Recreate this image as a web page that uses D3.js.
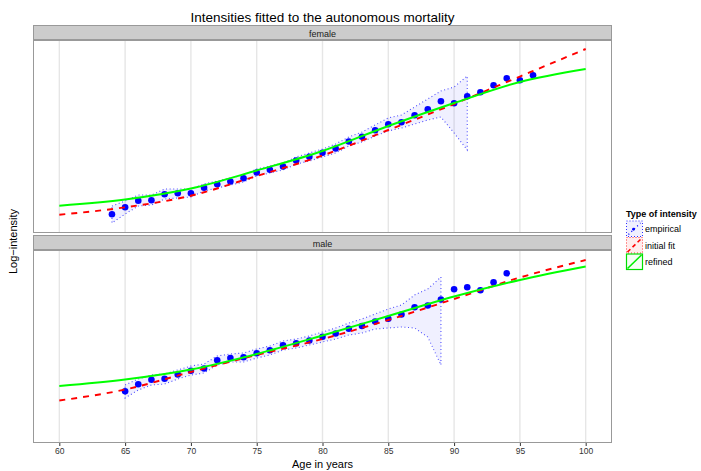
<!DOCTYPE html>
<html><head><meta charset="utf-8">
<script src="https://cdn.jsdelivr.net/npm/d3@7"></script>
<style>
body{margin:0;background:#fff;}
svg{display:block;font-family:"Liberation Sans",Arial,sans-serif;}
</style></head>
<body><svg id="chart" width="701" height="471"></svg>
<script>
// ---------- data (log-intensity) ----------
const panels = ["female","male"];
const xTicks = [60,65,70,75,80,85,90,95,100];
const legendLabels = ["empirical","initial fit","refined"];

// female empirical
const femAges = [64,65,66,67,68,69,70,71,72,73,74,75,76,77,78,79,80,81,82,83,84,85,86,87,88,89,90,91,92,93,94,95,96];
const femEmp  = [-4.358,-4.183,-4.018,-4.008,-3.858,-3.833,-3.833,-3.693,-3.608,-3.538,-3.458,-3.313,-3.245,-3.163,-3.013,-2.92,-2.818,-2.713,-2.538,-2.418,-2.258,-2.105,-2.058,-1.883,-1.73,-1.53,-1.583,-1.405,-1.305,-1.133,-0.955,-1.005,-0.88];
const femBandAges = [64,65,66,67,68,69,70,71,72,73,74,75,76,77,78,79,80,81,82,83,84,85,86,87,88,89,90,91];
const femUpper = [-4.15,-4.025,-3.875,-3.875,-3.725,-3.725,-3.725,-3.6,-3.525,-3.45,-3.375,-3.225,-3.15,-3.075,-2.925,-2.825,-2.725,-2.6,-2.425,-2.3,-2.125,-1.95,-1.875,-1.675,-1.475,-1.275,-1.175,-0.9];
const femLower = [-4.575,-4.35,-4.15,-4.125,-3.975,-3.95,-3.925,-3.775,-3.7,-3.625,-3.55,-3.4,-3.325,-3.25,-3.1,-3.025,-2.925,-2.825,-2.65,-2.55,-2.4,-2.275,-2.2,-2.1,-2.0,-1.925,-2.325,-2.75];

// male empirical
const malAges = [65,66,67,68,69,70,71,72,73,74,75,76,77,78,79,80,81,82,83,84,85,86,87,88,89,90,91,92,93,94];
const malEmp  = [-3.533,-3.358,-3.243,-3.218,-3.113,-3.018,-2.963,-2.755,-2.7,-2.68,-2.583,-2.508,-2.38,-2.333,-2.263,-2.168,-2.088,-1.968,-1.9,-1.788,-1.718,-1.613,-1.43,-1.388,-1.238,-0.983,-0.933,-1.008,-0.808,-0.583];
const malBandAges = [65,66,67,68,69,70,71,72,73,74,75,76,77,78,79,80,81,82,83,84,85,86,87,88,89];
const malUpper = [-3.375,-3.225,-3.125,-3.1,-3.0,-2.9,-2.85,-2.65,-2.6,-2.575,-2.475,-2.4,-2.275,-2.225,-2.15,-2.05,-1.95,-1.825,-1.725,-1.6,-1.475,-1.375,-1.125,-0.975,-0.675];
const malLower = [-3.7,-3.5,-3.375,-3.35,-3.225,-3.125,-3.075,-2.875,-2.8,-2.8,-2.7,-2.625,-2.5,-2.45,-2.375,-2.3,-2.225,-2.125,-2.075,-1.975,-1.95,-1.925,-1.95,-2.175,-2.875];

// fitted curves (knots every 5 years)
const fitAges = [60,65,70,75,80,85,90,95,100];
const femInitial = [-4.368,-4.183,-3.893,-3.4,-2.888,-2.25,-1.6,-0.913,-0.225];
const femRefined = [-4.143,-3.988,-3.713,-3.263,-2.775,-2.15,-1.575,-1.05,-0.725];
const malInitial = [-3.763,-3.488,-3.05,-2.625,-2.225,-1.75,-1.225,-0.688,-0.25];
const malRefined = [-3.4,-3.238,-2.988,-2.6,-2.138,-1.65,-1.163,-0.75,-0.413];

// ---------- build ----------
const series = {
  female:{ages:femAges, emp:femEmp, bandAges:femBandAges, up:femUpper, lo:femLower, init:femInitial, ref:femRefined},
  male:{ages:malAges, emp:malEmp, bandAges:malBandAges, up:malUpper, lo:malLower, init:malInitial, ref:malRefined}
};

const svg = d3.select("#chart");
const L = 33, R = 612;
const panelTops = [40, 250], panelH = 193, stripH = 14;
const x = d3.scaleLinear().domain([58,102]).range([L,R]);

svg.append("text").attr("x",(L+R)/2).attr("y",22).attr("text-anchor","middle")
  .attr("font-size",13.5).attr("fill","#000").text("Intensities fitted to the autonomous mortality");

panels.forEach((p,i)=>{
  const top = panelTops[i], bot = top+panelH;
  const y = d3.scaleLinear().domain([-4.825,0]).range([bot,top]);
  const s = series[p];
  // strip
  svg.append("rect").attr("x",L+0.5).attr("y",top-stripH-0.5).attr("width",R-L-1).attr("height",stripH)
    .attr("fill","#cccccc").attr("stroke","#999").attr("stroke-width",1);
  svg.append("text").attr("x",(L+R)/2).attr("y",top-3.5).attr("text-anchor","middle")
    .attr("font-size",9).attr("fill","#1a1a1a").text(p);
  // panel bg + grid
  const g = svg.append("g");
  g.append("rect").attr("x",L).attr("y",top).attr("width",R-L).attr("height",panelH).attr("fill","#fff");
  g.selectAll("line.grid").data(xTicks).enter().append("line")
    .attr("x1",d=>x(d)).attr("x2",d=>x(d)).attr("y1",top).attr("y2",bot)
    .attr("stroke","#e6e6e6").attr("stroke-width",1.4);
  // clip
  const cid = "clip"+i;
  svg.append("clipPath").attr("id",cid).append("rect").attr("x",L).attr("y",top).attr("width",R-L).attr("height",panelH);
  const pg = svg.append("g").attr("clip-path",`url(#${cid})`);
  // ribbon
  const band = s.bandAges.map((a,k)=>({a, u:s.up[k], l:s.lo[k]}));
  const area = d3.area().x(d=>x(d.a)).y0(d=>y(d.l)).y1(d=>y(d.u)).curve(d3.curveLinear);
  pg.append("path").datum(band).attr("d",area)
    .attr("fill","#0000ff").attr("fill-opacity",0.06)
    .attr("stroke","#3030ff").attr("stroke-opacity",0.85).attr("stroke-width",1.1).attr("stroke-dasharray","1,2.6");
  // points
  pg.selectAll("circle.pt").data(s.ages.map((a,k)=>({a,v:s.emp[k]}))).enter().append("circle")
    .attr("cx",d=>x(d.a)).attr("cy",d=>y(d.v)).attr("r",3.3).attr("fill","#0000ff");
  // lines
  const line = d3.line().x(d=>x(d.a)).y(d=>y(d.v)).curve(d3.curveMonotoneX);
  pg.append("path").datum(fitAges.map((a,k)=>({a,v:s.init[k]}))).attr("d",line)
    .attr("fill","none").attr("stroke","#ff0000").attr("stroke-width",1.9).attr("stroke-dasharray","6,6");
  pg.append("path").datum(fitAges.map((a,k)=>({a,v:s.ref[k]}))).attr("d",line)
    .attr("fill","none").attr("stroke","#00ff00").attr("stroke-width",1.9);
  // border
  svg.append("rect").attr("x",L+0.5).attr("y",top+0.5).attr("width",R-L-1).attr("height",panelH-1)
    .attr("fill","none").attr("stroke","#999").attr("stroke-width",1);
});

// x axis
const axBot = panelTops[1]+panelH;
const ax = svg.append("g").attr("transform",`translate(0,${axBot})`)
  .call(d3.axisBottom(x).tickValues(xTicks).tickSize(3).tickPadding(2).tickFormat(d3.format("d")));
ax.select(".domain").remove();
ax.selectAll("line").attr("stroke","#333");
ax.selectAll("text").attr("font-size",8.5).attr("fill","#333").attr("font-family","Liberation Sans, Arial, sans-serif");

svg.append("text").attr("x",(L+R)/2).attr("y",468).attr("text-anchor","middle").attr("font-size",11).text("Age in years");
svg.append("text").attr("transform",`translate(17,${(panelTops[0]+axBot)/2}) rotate(-90)`).attr("text-anchor","middle")
  .attr("font-size",11).text("Log\u2212intensity");

// legend
const lg = svg.append("g");
lg.append("text").attr("x",626).attr("y",217).attr("font-size",9).attr("font-weight","bold").text("Type of intensity");
const keyX = 626.5, keyW = 16, keyH = 16.5, keyY0 = 221;
legendLabels.forEach((lab,k)=>{
  const ky = keyY0 + k*keyH;
  const kg = lg.append("g");
  if(k===0){
    kg.append("rect").attr("x",keyX).attr("y",ky).attr("width",keyW).attr("height",keyH-1)
      .attr("fill","#f0f0ff").attr("stroke","#3030ff").attr("stroke-width",1).attr("stroke-dasharray","1,2");
    kg.append("line").attr("x1",keyX+2).attr("y1",ky+keyH-3).attr("x2",keyX+keyW-2).attr("y2",ky+2)
      .attr("stroke","#0000ff").attr("stroke-width",1.2).attr("stroke-dasharray","1,3");
    kg.append("circle").attr("cx",keyX+keyW/2-1).attr("cy",ky+keyH/2).attr("r",1.4).attr("fill","#0000ff");
  } else if(k===1){
    kg.append("rect").attr("x",keyX).attr("y",ky).attr("width",keyW).attr("height",keyH-1)
      .attr("fill","#ffecec").attr("stroke","#ff3030").attr("stroke-width",1).attr("stroke-dasharray","1,2");
    kg.append("line").attr("x1",keyX+1).attr("y1",ky+keyH-2).attr("x2",keyX+keyW-1).attr("y2",ky+1)
      .attr("stroke","#ff0000").attr("stroke-width",1.6).attr("stroke-dasharray","4,3");
  } else {
    kg.append("rect").attr("x",keyX).attr("y",ky).attr("width",keyW).attr("height",keyH-1)
      .attr("fill","#f4fff4").attr("stroke","#00dd00").attr("stroke-width",1.2);
    kg.append("line").attr("x1",keyX+1).attr("y1",ky+keyH-2).attr("x2",keyX+keyW-1).attr("y2",ky+1)
      .attr("stroke","#00ee00").attr("stroke-width",1.6);
  }
  lg.append("text").attr("x",645).attr("y",ky+keyH/2+3).attr("font-size",9).text(lab);
});
</script></body></html>
